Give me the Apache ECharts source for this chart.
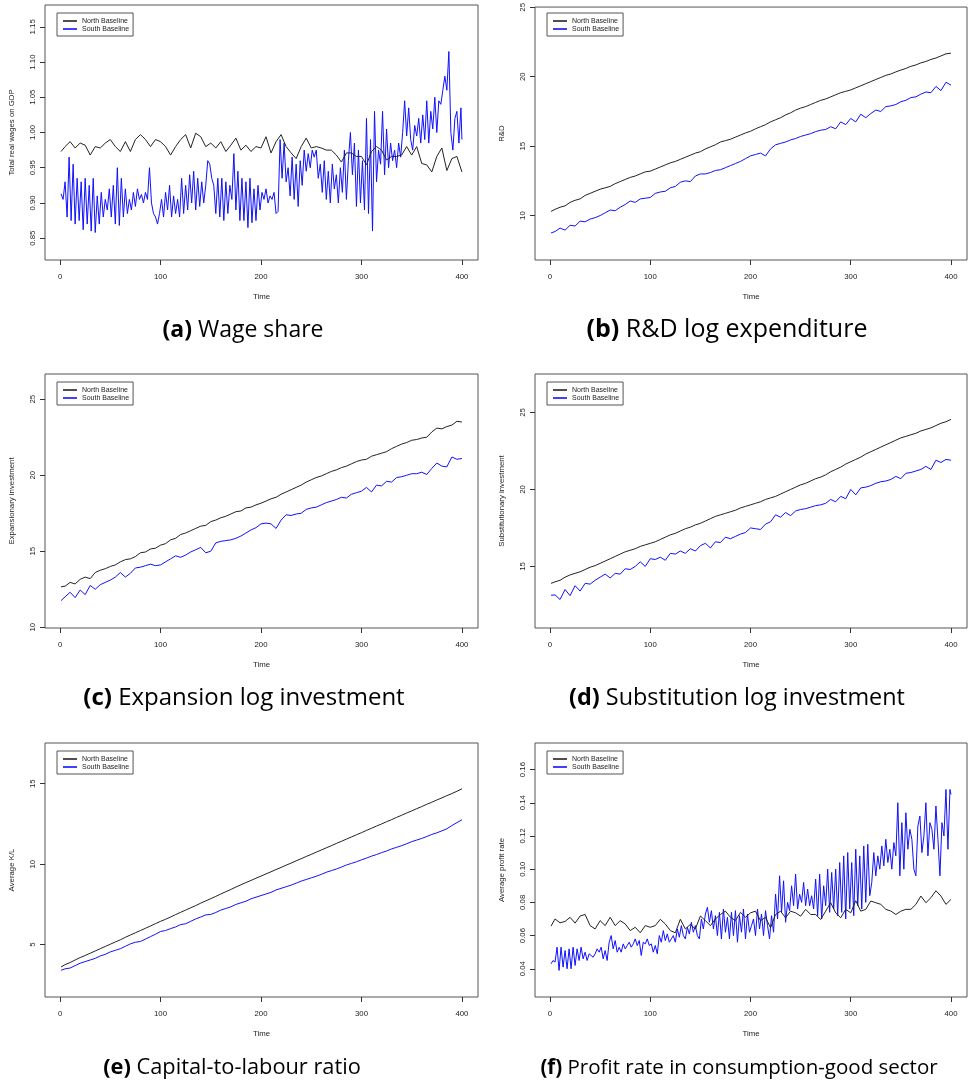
<!DOCTYPE html>
<html>
<head>
<meta charset="utf-8">
<title>North vs South baseline</title>
<script src="https://cdn.jsdelivr.net/npm/echarts@6.0.0/dist/echarts.min.js"></script>
<style>
  html, body { margin: 0; padding: 0; background: #fff; }
  #main { width: 969px; height: 1085px; }
</style>
</head>
<body>
<div id="main"></div>
<script>
// time steps (sampled every 5 periods)
var time = [1, 5, 10, 15, 20, 25, 30, 35, 40, 45,
    50, 55, 60, 65, 70, 75, 80, 85, 90, 95,
    100, 105, 110, 115, 120, 125, 130, 135, 140, 145,
    150, 155, 160, 165, 170, 175, 180, 185, 190, 195,
    200, 205, 210, 215, 220, 225, 230, 235, 240, 245,
    250, 255, 260, 265, 270, 275, 280, 285, 290, 295,
    300, 305, 310, 315, 320, 325, 330, 335, 340, 345,
    350, 355, 360, 365, 370, 375, 380, 385, 390, 395,
    400];

// finer time steps (every 2 periods) for the very noisy southern series
var timeFine = [1, 3, 5, 7, 9, 11, 13, 15, 17, 19,
    21, 23, 25, 27, 29, 31, 33, 35, 37, 39,
    41, 43, 45, 47, 49, 51, 53, 55, 57, 59,
    61, 63, 65, 67, 69, 71, 73, 75, 77, 79,
    81, 83, 85, 87, 89, 91, 93, 95, 97, 99,
    101, 103, 105, 107, 109, 111, 113, 115, 117, 119,
    121, 123, 125, 127, 129, 131, 133, 135, 137, 139,
    141, 143, 145, 147, 149, 151, 153, 155, 157, 159,
    161, 163, 165, 167, 169, 171, 173, 175, 177, 179,
    181, 183, 185, 187, 189, 191, 193, 195, 197, 199,
    201, 203, 205, 207, 209, 211, 213, 215, 217, 219,
    221, 223, 225, 227, 229, 231, 233, 235, 237, 239,
    241, 243, 245, 247, 249, 251, 253, 255, 257, 259,
    261, 263, 265, 267, 269, 271, 273, 275, 277, 279,
    281, 283, 285, 287, 289, 291, 293, 295, 297, 299,
    301, 303, 305, 307, 309, 311, 313, 315, 317, 319,
    321, 323, 325, 327, 329, 331, 333, 335, 337, 339,
    341, 343, 345, 347, 349, 351, 353, 355, 357, 359,
    361, 363, 365, 367, 369, 371, 373, 375, 377, 379,
    381, 383, 385, 387, 389, 391, 393, 395, 397, 399,
    400];

var xTicks = [0, 100, 200, 300, 400];

// (a) wage share
var wageNorth = [0.973, 0.980, 0.987, 0.978, 0.985, 0.982, 0.968, 0.980, 0.978, 0.985,
    0.990, 0.980, 0.973, 0.987, 0.973, 0.990, 0.997, 0.990, 0.980, 0.990,
    0.987, 0.980, 0.968, 0.980, 0.990, 0.997, 0.978, 0.999, 0.994, 0.980,
    0.985, 0.978, 0.987, 0.973, 0.982, 0.992, 0.975, 0.982, 0.973, 0.980,
    0.978, 0.994, 0.971, 0.987, 0.997, 0.980, 0.971, 0.963, 0.980, 0.992,
    0.978, 0.980, 0.978, 0.975, 0.975, 0.968, 0.958, 0.971, 0.971, 0.966,
    0.966, 0.954, 0.973, 0.980, 0.975, 0.961, 0.966, 0.966, 0.968, 0.980,
    0.968, 0.980, 0.956, 0.954, 0.944, 0.966, 0.978, 0.946, 0.963, 0.966,
    0.944];
var wageSouth = [0.913, 0.905, 0.930, 0.880, 0.965, 0.875, 0.955, 0.870, 0.935, 0.875,
    0.930, 0.862, 0.935, 0.870, 0.925, 0.860, 0.935, 0.858, 0.910, 0.870,
    0.915, 0.880, 0.905, 0.890, 0.920, 0.880, 0.925, 0.870, 0.950, 0.868,
    0.935, 0.880, 0.920, 0.885, 0.905, 0.890, 0.915, 0.895, 0.920, 0.905,
    0.912, 0.900, 0.915, 0.905, 0.950, 0.900, 0.885, 0.880, 0.870, 0.885,
    0.905, 0.880, 0.915, 0.890, 0.925, 0.880, 0.910, 0.885, 0.905, 0.880,
    0.935, 0.885, 0.925, 0.890, 0.940, 0.900, 0.945, 0.890, 0.935, 0.895,
    0.930, 0.900, 0.925, 0.960, 0.955, 0.935, 0.925, 0.885, 0.935, 0.880,
    0.935, 0.875, 0.930, 0.885, 0.925, 0.905, 0.970, 0.890, 0.945, 0.875,
    0.935, 0.875, 0.930, 0.865, 0.935, 0.872, 0.920, 0.875, 0.925, 0.890,
    0.915, 0.905, 0.920, 0.900, 0.910, 0.905, 0.915, 0.885, 0.888, 0.990,
    0.935, 0.985, 0.930, 0.950, 0.910, 0.965, 0.905, 0.955, 0.895, 0.960,
    0.925, 0.975, 0.945, 0.970, 0.950, 0.975, 0.965, 0.975, 0.935, 0.955,
    0.915, 0.960, 0.905, 0.945, 0.900, 0.955, 0.920, 0.940, 0.900, 0.950,
    0.915, 0.975, 0.905, 0.960, 1.000, 0.940, 0.985, 0.895, 0.975, 0.900,
    0.960, 0.890, 1.020, 0.885, 0.990, 0.860, 1.030, 0.930, 0.975, 0.955,
    1.030, 0.940, 1.005, 0.950, 0.985, 0.960, 0.975, 0.950, 0.985, 0.965,
    1.000, 1.045, 0.995, 1.035, 0.990, 0.975, 1.010, 0.995, 1.020, 0.985,
    1.025, 0.990, 1.045, 0.985, 1.030, 1.005, 1.050, 1.000, 1.045, 1.040,
    1.060, 1.080, 1.060, 1.115, 1.000, 0.975, 1.020, 1.030, 0.985, 1.035,
    0.990];
var wageTicks = [0.85, 0.90, 0.95, 1.00, 1.05, 1.10, 1.15];

// (b) R&D
var rdNorth = [10.30, 10.45, 10.60, 10.70, 10.95, 11.10, 11.20, 11.45, 11.60, 11.75,
    11.90, 12.00, 12.10, 12.30, 12.45, 12.60, 12.75, 12.85, 13.00, 13.15,
    13.20, 13.35, 13.50, 13.65, 13.80, 13.90, 14.05, 14.20, 14.35, 14.50,
    14.60, 14.80, 14.95, 15.10, 15.30, 15.40, 15.50, 15.65, 15.80, 15.95,
    16.07, 16.25, 16.40, 16.55, 16.75, 16.90, 17.05, 17.25, 17.40, 17.60,
    17.74, 17.85, 18.00, 18.15, 18.30, 18.40, 18.55, 18.70, 18.85, 18.95,
    19.05, 19.20, 19.35, 19.50, 19.65, 19.80, 19.95, 20.10, 20.20, 20.35,
    20.48, 20.60, 20.75, 20.85, 21.00, 21.10, 21.25, 21.35, 21.50, 21.65,
    21.70];
var rdSouth = [8.75, 8.85, 9.10, 8.95, 9.30, 9.25, 9.60, 9.55, 9.75, 9.85,
    10.00, 10.20, 10.40, 10.35, 10.60, 10.80, 11.05, 10.95, 11.20, 11.25,
    11.30, 11.60, 11.70, 11.75, 12.00, 12.10, 12.40, 12.50, 12.45, 12.85,
    13.00, 13.00, 13.10, 13.25, 13.30, 13.45, 13.60, 13.75, 13.90, 14.10,
    14.30, 14.40, 14.50, 14.30, 14.80, 15.10, 15.20, 15.30, 15.45, 15.55,
    15.70, 15.80, 15.90, 16.05, 16.15, 16.20, 16.40, 16.25, 16.75, 16.55,
    17.00, 16.75, 17.30, 17.05, 17.35, 17.60, 17.50, 17.85, 17.90, 18.00,
    18.20, 18.30, 18.50, 18.55, 18.75, 18.90, 18.85, 19.30, 19.00, 19.60,
    19.40];
var rdTicks = [10, 15, 20, 25];

// (c) expansion investment
var expNorth = [12.66, 12.70, 12.95, 12.85, 13.15, 13.30, 13.20, 13.60, 13.75, 13.85,
    14.00, 14.10, 14.30, 14.45, 14.50, 14.65, 14.90, 14.95, 15.15, 15.20,
    15.40, 15.50, 15.75, 15.85, 16.10, 16.20, 16.35, 16.50, 16.65, 16.70,
    16.95, 17.05, 17.20, 17.30, 17.45, 17.60, 17.65, 17.85, 17.90, 18.05,
    18.16, 18.30, 18.45, 18.55, 18.75, 18.90, 19.05, 19.20, 19.35, 19.55,
    19.70, 19.85, 19.95, 20.10, 20.25, 20.35, 20.50, 20.60, 20.75, 20.90,
    21.00, 21.05, 21.25, 21.35, 21.45, 21.55, 21.75, 21.90, 22.05, 22.15,
    22.30, 22.35, 22.45, 22.50, 22.85, 23.10, 23.05, 23.20, 23.30, 23.55,
    23.50];
var expSouth = [11.75, 12.00, 12.30, 11.95, 12.45, 12.15, 12.75, 12.50, 12.80, 12.95,
    13.10, 13.30, 13.60, 13.30, 13.55, 13.90, 13.95, 14.05, 14.15, 14.05,
    14.10, 14.30, 14.50, 14.70, 14.60, 14.75, 14.95, 15.10, 15.25, 14.90,
    15.00, 15.55, 15.65, 15.70, 15.75, 15.85, 16.00, 16.20, 16.40, 16.55,
    16.80, 16.85, 16.80, 16.50, 17.05, 17.40, 17.35, 17.45, 17.50, 17.75,
    17.85, 17.90, 18.05, 18.20, 18.30, 18.40, 18.55, 18.50, 18.75, 18.85,
    18.95, 19.20, 18.90, 19.35, 19.30, 19.60, 19.55, 19.85, 19.90, 20.00,
    20.10, 20.10, 20.20, 20.05, 20.45, 20.80, 20.60, 20.55, 21.20, 21.05,
    21.10];
var expTicks = [10, 15, 20, 25];

// (d) substitution investment
var subNorth = [13.90, 14.00, 14.10, 14.30, 14.45, 14.55, 14.65, 14.80, 14.95, 15.05,
    15.20, 15.35, 15.50, 15.65, 15.80, 15.95, 16.05, 16.15, 16.30, 16.40,
    16.50, 16.60, 16.75, 16.90, 17.05, 17.15, 17.30, 17.45, 17.55, 17.70,
    17.80, 17.95, 18.10, 18.25, 18.35, 18.45, 18.55, 18.65, 18.80, 18.90,
    19.00, 19.10, 19.20, 19.35, 19.45, 19.55, 19.70, 19.85, 20.00, 20.15,
    20.30, 20.40, 20.55, 20.70, 20.80, 20.95, 21.15, 21.30, 21.45, 21.65,
    21.80, 21.95, 22.10, 22.30, 22.45, 22.60, 22.75, 22.90, 23.05, 23.20,
    23.35, 23.45, 23.55, 23.65, 23.80, 23.90, 24.00, 24.15, 24.30, 24.40,
    24.55];
var subSouth = [13.13, 13.15, 12.85, 13.50, 13.10, 13.75, 13.40, 13.90, 13.85, 14.10,
    14.30, 14.50, 14.25, 14.55, 14.50, 14.85, 14.80, 15.00, 15.30, 15.00,
    15.50, 15.45, 15.60, 15.40, 15.85, 15.80, 16.00, 15.85, 16.15, 16.00,
    16.35, 16.50, 16.20, 16.60, 16.55, 16.90, 16.80, 16.95, 17.10, 17.20,
    17.50, 17.45, 17.40, 17.75, 17.90, 18.35, 18.20, 18.50, 18.30, 18.60,
    18.70, 18.75, 18.85, 18.95, 19.00, 19.10, 19.35, 19.20, 19.55, 19.40,
    20.00, 19.65, 20.10, 20.15, 20.25, 20.40, 20.50, 20.55, 20.65, 20.85,
    20.70, 21.05, 21.10, 21.20, 21.30, 21.50, 21.30, 21.90, 21.75, 21.95,
    21.90];
var subTicks = [15, 20, 25];

// (e) capital-to-labour
var klNorth = [3.62, 3.76, 3.89, 4.05, 4.20, 4.33, 4.47, 4.61, 4.75, 4.89,
    5.03, 5.17, 5.30, 5.46, 5.60, 5.74, 5.88, 6.02, 6.16, 6.31,
    6.45, 6.58, 6.72, 6.87, 7.01, 7.15, 7.29, 7.43, 7.58, 7.72,
    7.86, 8.00, 8.15, 8.29, 8.43, 8.58, 8.72, 8.86, 8.99, 9.13,
    9.26, 9.40, 9.53, 9.67, 9.80, 9.94, 10.07, 10.21, 10.34, 10.48,
    10.61, 10.75, 10.88, 11.02, 11.15, 11.29, 11.42, 11.56, 11.69, 11.83,
    11.96, 12.10, 12.23, 12.37, 12.50, 12.64, 12.77, 12.91, 13.04, 13.18,
    13.31, 13.45, 13.58, 13.72, 13.85, 13.99, 14.12, 14.26, 14.39, 14.53,
    14.68];
var klSouth = [3.41, 3.50, 3.55, 3.70, 3.85, 3.95, 4.05, 4.15, 4.30, 4.40,
    4.55, 4.65, 4.75, 4.90, 5.05, 5.15, 5.20, 5.35, 5.50, 5.65,
    5.82, 5.88, 6.00, 6.10, 6.25, 6.30, 6.45, 6.60, 6.72, 6.85,
    6.88, 7.00, 7.15, 7.25, 7.35, 7.50, 7.60, 7.70, 7.85, 7.95,
    8.05, 8.15, 8.25, 8.40, 8.50, 8.60, 8.70, 8.82, 8.95, 9.05,
    9.15, 9.25, 9.37, 9.50, 9.60, 9.70, 9.82, 9.95, 10.05, 10.15,
    10.27, 10.38, 10.50, 10.60, 10.72, 10.82, 10.95, 11.05, 11.15, 11.27,
    11.40, 11.50, 11.60, 11.72, 11.85, 11.95, 12.07, 12.20, 12.40, 12.58,
    12.76];
var klTicks = [5, 10, 15];

// (f) profit rate
var profNorth = [0.0657, 0.0700, 0.0677, 0.0685, 0.0710, 0.0675, 0.0718, 0.0727, 0.0660, 0.0640,
    0.0690, 0.0660, 0.0710, 0.0660, 0.0690, 0.0670, 0.0630, 0.0650, 0.0617, 0.0660,
    0.0650, 0.0660, 0.0698, 0.0670, 0.0630, 0.0617, 0.0698, 0.0640, 0.0667, 0.0640,
    0.0718, 0.0690, 0.0660, 0.0700, 0.0727, 0.0747, 0.0710, 0.0690, 0.0740, 0.0710,
    0.0737, 0.0747, 0.0690, 0.0710, 0.0647, 0.0727, 0.0747, 0.0707, 0.0747, 0.0737,
    0.0717, 0.0758, 0.0727, 0.0727, 0.0697, 0.0747, 0.0798, 0.0737, 0.0707, 0.0758,
    0.0737, 0.0810, 0.0747, 0.0758, 0.0808, 0.0798, 0.0788, 0.0758, 0.0748, 0.0727,
    0.0747, 0.0758, 0.0758, 0.0788, 0.0838, 0.0798, 0.0828, 0.0870, 0.0838, 0.0788,
    0.0818];
var profSouth = [0.043, 0.045, 0.044, 0.053, 0.039, 0.053, 0.041, 0.051, 0.040, 0.052,
    0.040, 0.053, 0.042, 0.052, 0.045, 0.053, 0.046, 0.050, 0.045, 0.049,
    0.048, 0.047, 0.049, 0.052, 0.050, 0.053, 0.046, 0.051, 0.045, 0.056,
    0.060, 0.052, 0.057, 0.050, 0.053, 0.050, 0.055, 0.052, 0.054, 0.056,
    0.053, 0.055, 0.058, 0.054, 0.057, 0.048, 0.056, 0.055, 0.058, 0.054,
    0.055, 0.050, 0.054, 0.049, 0.060, 0.056, 0.063, 0.057, 0.061, 0.056,
    0.058, 0.060, 0.056, 0.064, 0.059, 0.066, 0.060, 0.058, 0.065, 0.061,
    0.068, 0.062, 0.066, 0.060, 0.058, 0.070, 0.064, 0.073, 0.077, 0.068,
    0.075, 0.064, 0.072, 0.060, 0.074, 0.058, 0.076, 0.062, 0.071, 0.058,
    0.074, 0.060, 0.075, 0.056, 0.072, 0.062, 0.076, 0.058, 0.073, 0.062,
    0.066, 0.070, 0.060, 0.076, 0.064, 0.073, 0.060, 0.075, 0.066, 0.058,
    0.072, 0.062, 0.085, 0.070, 0.096, 0.074, 0.093, 0.068, 0.080, 0.075,
    0.090, 0.078, 0.097, 0.076, 0.085, 0.080, 0.092, 0.078, 0.088, 0.078,
    0.084, 0.076, 0.094, 0.072, 0.097, 0.070, 0.090, 0.078, 0.100, 0.074,
    0.098, 0.076, 0.100, 0.072, 0.104, 0.074, 0.108, 0.070, 0.110, 0.076,
    0.104, 0.072, 0.112, 0.078, 0.108, 0.076, 0.114, 0.080, 0.115, 0.084,
    0.092, 0.110, 0.096, 0.108, 0.100, 0.114, 0.102, 0.118, 0.104, 0.112,
    0.100, 0.116, 0.108, 0.140, 0.096, 0.128, 0.100, 0.134, 0.112, 0.124,
    0.118, 0.100, 0.096, 0.126, 0.132, 0.110, 0.120, 0.140, 0.108, 0.128,
    0.124, 0.112, 0.138, 0.118, 0.096, 0.128, 0.120, 0.148, 0.112, 0.148,
    0.145];
var profTicks = [0.04, 0.06, 0.08, 0.10, 0.12, 0.14, 0.16];

var panels = [
    {north: wageNorth, south: wageSouth, southTime: timeFine, ticks: wageTicks, dec: 2, min: 0.819, max: 1.181,
     yName: 'Total real wages on GDP', tag: '(a)', caption: 'Wage share',
     left: 45, top: 5, width: 433, height: 255, capX: 243, capY: 330, capSize: 23},
    {north: rdNorth, south: rdSouth, southTime: time, ticks: rdTicks, dec: 0, min: 6.8, max: 25.02,
     yName: 'R&D', tag: '(b)', caption: 'R&D log expenditure',
     left: 535, top: 5, width: 432, height: 255, capX: 727, capY: 330, capSize: 25},
    {north: expNorth, south: expSouth, southTime: time, ticks: expTicks, dec: 0, min: 9.95, max: 26.66,
     yName: 'Expansionary investment', tag: '(c)', caption: 'Expansion log investment',
     left: 45, top: 374, width: 433, height: 254, capX: 244, capY: 698, capSize: 24},
    {north: subNorth, south: subSouth, southTime: time, ticks: subTicks, dec: 0, min: 11.0, max: 27.5,
     yName: 'Substitutionary investment', tag: '(d)', caption: 'Substitution log investment',
     left: 535, top: 374, width: 432, height: 254, capX: 737, capY: 698, capSize: 23.4},
    {north: klNorth, south: klSouth, southTime: time, ticks: klTicks, dec: 0, min: 1.75, max: 17.53,
     yName: 'Average K/L', tag: '(e)', caption: 'Capital-to-labour ratio',
     left: 45, top: 743, width: 433, height: 254, capX: 232, capY: 1068, capSize: 21.8},
    {north: profNorth, south: profSouth, southTime: timeFine, ticks: profTicks, dec: 2, min: 0.023, max: 0.176,
     yName: 'Average profit rate', tag: '(f)', caption: 'Profit rate in consumption-good sector',
     left: 535, top: 743, width: 432, height: 254, capX: 739, capY: 1068, capSize: 20.5}
];

function pairs(ts, vals) {
    return ts.map(function (t, i) { return [t, vals[i]]; });
}

var axisFont = 'Liberation Sans';
var grids = [], xAxes = [], yAxes = [], series = [], legends = [], graphics = [];

panels.forEach(function (p, i) {
    grids.push({
        left: p.left, top: p.top, width: p.width, height: p.height,
        show: true, borderColor: '#555', borderWidth: 1, backgroundColor: 'transparent'
    });
    xAxes.push({
        gridIndex: i, type: 'value', min: -15, max: 416,
        axisLine: {show: false, onZero: false},
        splitLine: {show: false},
        axisTick: {show: true, inside: false, length: 5, customValues: xTicks,
            lineStyle: {color: '#333', width: 1}},
        axisLabel: {customValues: xTicks, margin: 13, fontSize: 7.8,
            fontFamily: axisFont, color: '#222'},
        name: 'Time', nameLocation: 'middle', nameGap: 33,
        nameTextStyle: {fontSize: 7.8, fontFamily: axisFont, color: '#222'}
    });
    yAxes.push({
        gridIndex: i, type: 'value', min: p.min, max: p.max,
        axisLine: {show: false, onZero: false},
        splitLine: {show: false},
        axisTick: {show: true, inside: false, length: 5, customValues: p.ticks,
            lineStyle: {color: '#333', width: 1}},
        axisLabel: {customValues: p.ticks, rotate: 90, margin: 8, fontSize: 7.8,
            fontFamily: axisFont, color: '#222',
            formatter: function (v) { return v.toFixed(p.dec); }},
        name: p.yName, nameLocation: 'middle', nameGap: 29, nameRotate: 90,
        nameTextStyle: {fontSize: 7.8, fontFamily: axisFont, color: '#222'}
    });
    // south first so north sits on top, as in the original
    series.push({
        name: 'South Baseline', type: 'line', xAxisIndex: i, yAxisIndex: i,
        data: pairs(p.southTime, p.south), showSymbol: false, symbol: 'none',
        lineStyle: {color: '#1010ff', width: 1}, itemStyle: {color: '#1010ff'}
    });
    series.push({
        name: 'North Baseline', type: 'line', xAxisIndex: i, yAxisIndex: i,
        data: pairs(time, p.north), showSymbol: false, symbol: 'none',
        lineStyle: {color: '#222', width: 1}, itemStyle: {color: '#222'}
    });
    legends.push({
        left: p.left + 12, top: p.top + 8, orient: 'vertical',
        data: ['North Baseline', 'South Baseline'],
        icon: 'rect', itemWidth: 14, itemHeight: 1.6, itemGap: 0,
        padding: [4, 4, 3, 6],
        borderColor: '#555', borderWidth: 1, borderRadius: 0, backgroundColor: '#fff',
        selectedMode: false,
        textStyle: {fontSize: 7, lineHeight: 8, fontFamily: axisFont, color: '#222'}
    });
    graphics.push({
        type: 'text', x: p.capX, y: p.capY,
        style: {
            text: '{b|' + p.tag + '} ' + p.caption,
            align: 'center', verticalAlign: 'middle',
            fontSize: p.capSize, fontFamily: 'Open Sans', fill: '#000',
            rich: {b: {fontSize: p.capSize, fontWeight: 'bold', fontFamily: 'Open Sans', fill: '#000'}}
        }
    });
});

var chart = echarts.init(document.getElementById('main'));
chart.setOption({
    animation: false,
    backgroundColor: '#fff',
    grid: grids,
    xAxis: xAxes,
    yAxis: yAxes,
    legend: legends,
    series: series,
    graphic: graphics
});
</script>
</body>
</html>
